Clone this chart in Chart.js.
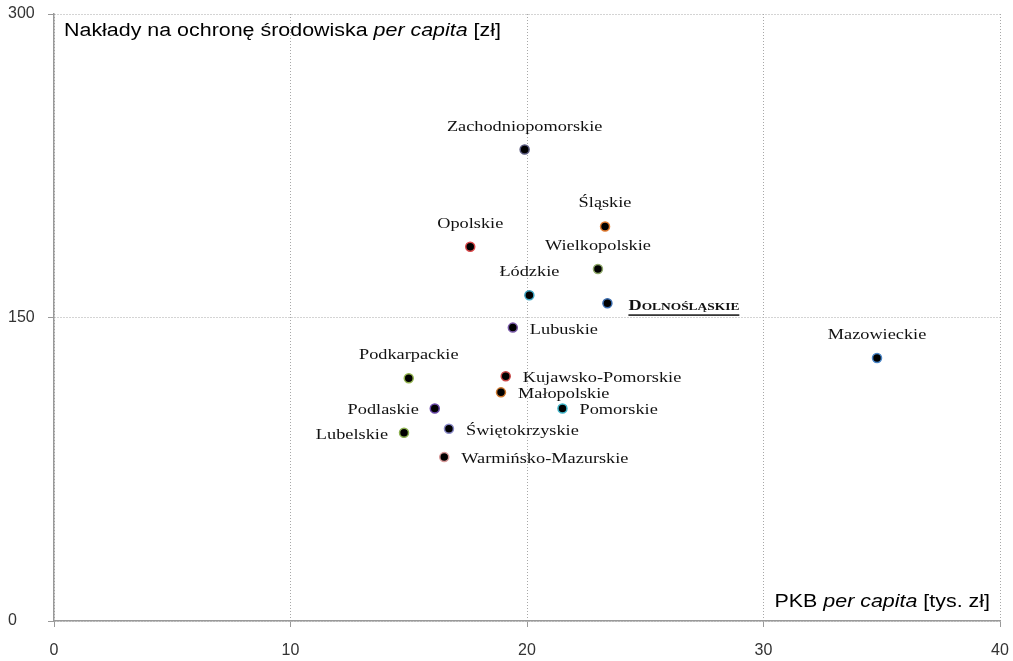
<!DOCTYPE html>
<html>
<head>
<meta charset="utf-8">
<script src="https://cdn.jsdelivr.net/npm/chart.js@4"></script>
<style>
html, body {margin:0; padding:0; background:#fff;}
</style>
</head>
<body>
<canvas id="chart" width="1013" height="661"></canvas>
<script>
let regions = ["Zachodniopomorskie", "Śląskie", "Opolskie", "Wielkopolskie", "Łódzkie", "Dolnośląskie",
    "Lubuskie", "Mazowieckie", "Podkarpackie", "Kujawsko-Pomorskie", "Małopolskie", "Podlaskie",
    "Pomorskie", "Lubelskie", "Świętokrzyskie", "Warmińsko-Mazurskie"];
let pkb = [19.9, 23.3, 17.6, 23.0, 20.1, 23.4, 19.4, 34.8, 15.0, 19.1, 18.9, 16.1, 21.5, 14.8, 16.7, 16.5];
let naklady = [233, 195, 185, 174, 161, 157, 145, 130, 120, 121, 113, 105, 105, 93, 95, 81];
let pointBorders = ["#55557a", "#e07a30", "#d9484a", "#8fa86a", "#3fa6c4", "#3b6db0", "#7a5aa8", "#4a86c8",
    "#94b450", "#c84848", "#d07a30", "#6a48a8", "#3fb4c8", "#8cb050", "#8a8ac8", "#d89a9a"];
let labelSide = ["top", "top", "top", "top", "top", "right", "right", "top",
    "top", "right", "right", "left", "right", "left", "right", "right"];
let xTicks = [0, 10, 20, 30, 40];
let yTicks = [0, 150, 300];

// the original text is a bit wider than the fonts we have, stretch it
const serifStretch = 1.22;
const sansStretch = 1.19;

function stretchedText(ctx, text, x, y, align, sx) {
    ctx.save();
    ctx.translate(x, y);
    ctx.scale(sx, 1);
    ctx.textAlign = align;
    ctx.fillText(text, 0, 0);
    let w = ctx.measureText(text).width * sx;
    ctx.restore();
    return w;
}

function drawSegments(ctx, segments, x, y, align) {
    // segments: [text, italic]
    let total = 0;
    for (let s of segments) {
        ctx.font = (s[1] ? "italic " : "") + "18px 'Liberation Sans', Arial, sans-serif";
        total += ctx.measureText(s[0]).width * sansStretch;
    }
    let cx = align === "right" ? x - total : x;
    for (let s of segments) {
        ctx.font = (s[1] ? "italic " : "") + "18px 'Liberation Sans', Arial, sans-serif";
        cx += stretchedText(ctx, s[0], cx, y, "left", sansStretch);
    }
}

const pointLabels = {
    id: "pointLabels",
    afterDatasetsDraw(chart) {
        const ctx = chart.ctx;
        const meta = chart.getDatasetMeta(0);
        ctx.save();
        ctx.fillStyle = "#111";
        ctx.textBaseline = "middle";
        meta.data.forEach((pt, i) => {
            let name = regions[i];
            let side = labelSide[i];
            if (name === "Dolnośląskie") {
                ctx.font = "small-caps bold 15px 'Liberation Serif', 'Times New Roman', serif";
                let tx = pt.x + 21, ty = pt.y + 3;
                let w = stretchedText(ctx, name, tx, ty, "left", serifStretch);
                ctx.fillRect(tx, ty + 8, w, 1.5);
                return;
            }
            ctx.font = "15px 'Liberation Serif', 'Times New Roman', serif";
            if (side === "top") {
                stretchedText(ctx, name, pt.x, pt.y - 23, "center", serifStretch);
            } else if (side === "right") {
                stretchedText(ctx, name, pt.x + 17, pt.y + 2, "left", serifStretch);
            } else {
                stretchedText(ctx, name, pt.x - 16, pt.y + 2, "right", serifStretch);
            }
        });
        ctx.restore();
    }
};

const axisTitles = {
    id: "axisTitles",
    afterDraw(chart) {
        const ctx = chart.ctx;
        const a = chart.chartArea;
        ctx.save();
        ctx.fillStyle = "#000";
        ctx.textBaseline = "middle";
        drawSegments(ctx, [["Nakłady na ochronę środowiska ", false], ["per capita", true], [" [zł]", false]],
            a.left + 10, a.top + 17, "left");
        drawSegments(ctx, [["PKB ", false], ["per capita", true], [" [tys. zł]", false]],
            a.right - 10, a.bottom - 19, "right");
        ctx.restore();
    }
};

const tickFont = {family: "'Liberation Sans', Arial, sans-serif", size: 16};

new Chart(document.getElementById("chart"), {
    type: "scatter",
    data: {
        datasets: [{
            data: pkb.map((v, i) => ({x: v, y: naklady[i]})),
            backgroundColor: "#000",
            borderColor: pointBorders,
            borderWidth: 1.5,
            pointRadius: 4.5,
            pointHoverRadius: 4.5
        }]
    },
    options: {
        responsive: false,
        animation: false,
        events: [],
        layout: {padding: {left: 8, right: 13, top: 14, bottom: 0}},
        plugins: {legend: {display: false}, tooltip: {enabled: false}},
        scales: {
            x: {
                type: "linear",
                min: 0, max: 40,
                afterBuildTicks: s => { s.ticks = xTicks.map(v => ({value: v})); },
                afterFit: s => { s.height = 40; s.paddingLeft = 0; s.paddingRight = 0; },
                grid: {color: "#a8a8a8", tickLength: 6, tickColor: "#999", tickBorderDash: []},
                border: {display: true, color: "#999", width: 1.5, dash: [1, 2]},
                ticks: {font: tickFont, color: "#333", padding: 14, maxRotation: 0}
            },
            y: {
                type: "linear",
                min: 0, max: 300,
                afterBuildTicks: s => { s.ticks = yTicks.map(v => ({value: v})); },
                afterFit: s => { s.width = 46; s.paddingTop = 0; s.paddingBottom = 0; },
                grid: {color: "#a8a8a8", tickLength: 6, tickColor: "#999", tickBorderDash: []},
                border: {display: true, color: "#999", width: 1.5, dash: [1, 2]},
                ticks: {font: tickFont, color: "#333", crossAlign: "far", padding: 4}
            }
        }
    },
    plugins: [pointLabels, axisTitles]
});
</script>
</body>
</html>
